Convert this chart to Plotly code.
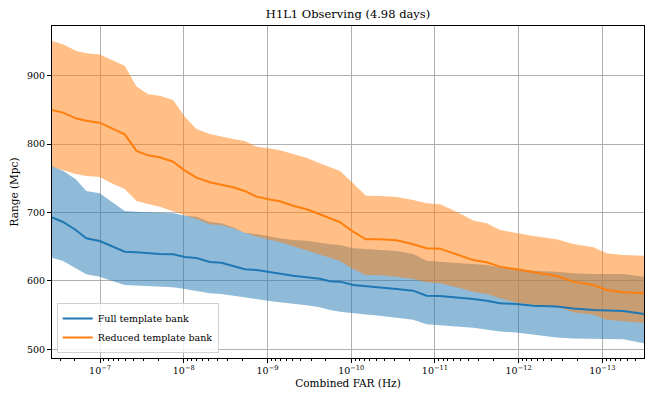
import plotly.graph_objects as go

# Combined FAR (Hz) sample positions
far = [3.75e-7, 2.77e-7, 1.95e-7, 1.46e-7, 1.01e-7, 7.31e-8, 5.07e-8, 3.67e-8, 2.67e-8, 1.94e-8,
       1.34e-8, 9.72e-9, 7.05e-9, 4.89e-9, 3.54e-9, 2.58e-9, 1.87e-9, 1.35e-9, 9.38e-10, 7.11e-10,
       4.94e-10, 3.41e-10, 2.37e-10, 1.80e-10, 1.36e-10, 9.48e-11, 6.68e-11, 4.54e-11, 2.87e-11, 1.82e-11,
       1.26e-11, 8.71e-12, 5.51e-12, 3.48e-12, 2.41e-12, 1.67e-12, 1.06e-12, 6.68e-13, 3.51e-13, 2.22e-13,
       1.28e-13, 8.87e-14, 5.62e-14, 3.18e-14]

# Full template bank (blue)
full_mid = [693, 686.2, 674.5, 662.4, 658.4, 651.1, 642.8, 641.9, 640.5, 639.4,
            639, 635, 633.6, 627.8, 626.7, 622.3, 617, 616, 612.7, 610.7,
            607.7, 605.4, 603.3, 599.5, 599, 594.1, 592.7, 590.8, 588.3, 585.8,
            578.5, 578.1, 576.2, 573.7, 571.2, 567.4, 566.4, 563.9, 562.6, 559.6,
            557.7, 556.7, 556.2, 551.7]
full_hi = [768, 761.2, 748.6, 731.5, 728.1, 715.9, 702.3, 701.3, 700.4, 699.8,
           698.9, 695.5, 694, 686, 684.3, 678.5, 670.6, 668.7, 664.8, 662.4,
           660, 658.9, 656, 653.6, 652.6, 647.8, 646.7, 645.3, 643.8, 639.4,
           629.7, 628.2, 626.7, 624.8, 623.4, 620, 617, 615, 613.6, 611.2,
           610.2, 610.2, 610.2, 606.3]
full_lo = [634, 629.2, 618.5, 609.8, 606.3, 600.4, 594.1, 593.1, 592.4, 591.7,
           590.8, 588.3, 585.8, 582, 581, 578.5, 575.6, 573.3, 570.8, 568.9,
           566.4, 564.5, 561.6, 557.6, 555.1, 552.8, 551, 549.3, 546.5, 543.2,
           536.7, 535.5, 533.5, 531.7, 528.5, 526, 524.5, 521.1, 517.2, 516,
           514.9, 514.9, 514.9, 509]

# Reduced template bank (orange)
red_mid = [849.9, 846, 837.7, 834.2, 831.3, 823, 814.3, 790, 783.6, 780.7,
           774.3, 761.2, 751, 744.2, 740.3, 736.9, 731.5, 723.2, 719, 716.4,
           710, 704.8, 697.5, 691.6, 685.8, 672, 660.9, 660.9, 659.5, 653.6,
           647.8, 647.2, 639, 630.5, 627.3, 620.9, 617, 612.7, 607.3, 599,
           594.1, 586.8, 583.5, 582]
red_hi = [950.7, 946, 936.5, 932.7, 931, 923, 914.6, 884, 872.8, 870.8,
          864.5, 840, 822, 814.8, 810.9, 807.5, 804.6, 796, 793.5, 791,
          785.5, 780, 772, 766, 760.7, 742.8, 724.6, 724.2, 722.7, 718.4,
          713.5, 712, 701.3, 688.2, 684.3, 674.5, 669.7, 665.7, 660.9, 654,
          649.2, 640.5, 638, 637]
red_lo = [767, 762, 756.3, 753.4, 752, 742.8, 734.4, 716.9, 712.5, 708.6,
          701.3, 696, 690.6, 683, 681.4, 677, 670.6, 664.8, 660, 657,
          651.1, 645.3, 639, 634, 629.2, 617.5, 608.8, 608.3, 606.3, 603,
          598.1, 596.7, 590.9, 584.4, 581, 574.7, 568.4, 565.1, 562.6, 554.4,
          550.5, 543.2, 540.8, 538.4]

labels = ["Full template bank", "Reduced template bank"]
title = "H1L1 Observing (4.98 days)"
x_major = [1e-7, 1e-8, 1e-9, 1e-10, 1e-11, 1e-12, 1e-13]
x_major_text = ["10<sup>\u22127</sup>", "10<sup>\u22128</sup>", "10<sup>\u22129</sup>",
                "10<sup>\u221210</sup>", "10<sup>\u221211</sup>", "10<sup>\u221212</sup>",
                "10<sup>\u221213</sup>"]
y_ticks = [500, 600, 700, 800, 900]

BLUE = "#1f77b4"
ORANGE = "#ff7f0e"
FONT = "DejaVu Serif"

fig = go.Figure()
fig.add_trace(go.Scatter(x=far + far[::-1], y=full_hi + full_lo[::-1], fill="toself",
                         fillcolor="rgba(31,119,180,0.5)", line=dict(width=0),
                         mode="lines", showlegend=False, hoverinfo="skip"))
fig.add_trace(go.Scatter(x=far + far[::-1], y=red_hi + red_lo[::-1], fill="toself",
                         fillcolor="rgba(255,127,14,0.5)", line=dict(width=0),
                         mode="lines", showlegend=False, hoverinfo="skip"))
fig.add_trace(go.Scatter(x=far, y=full_mid, mode="lines", name=labels[0],
                         line=dict(color=BLUE, width=2)))
fig.add_trace(go.Scatter(x=far, y=red_mid, mode="lines", name=labels[1],
                         line=dict(color=ORANGE, width=2)))

minor_vals = [m * 10.0 ** e for e in range(-14, -6) for m in range(2, 10)]

fig.update_layout(
    width=663, height=393,
    margin=dict(l=52, r=19, t=26, b=35, autoexpand=False),
    paper_bgcolor="white", plot_bgcolor="white",
    font=dict(family=FONT, size=10, color="black"),
    title=dict(text=title, x=0.525, xanchor="center", y=0.965, yanchor="middle",
               font=dict(family=FONT, size=11.5, color="black")),
    legend=dict(x=0.008, y=0.015, xanchor="left", yanchor="bottom",
                bgcolor="rgba(255,255,255,0.85)", bordercolor="#d0d0d0", borderwidth=1,
                font=dict(family=FONT, size=9.5), tracegroupgap=0, itemwidth=30),
    showlegend=True,
)
fig.update_xaxes(
    type="log", range=[-6.426, -13.498], automargin=False,
    tickvals=x_major, ticktext=x_major_text,
    ticks="outside", ticklen=4, tickcolor="black", tickwidth=1,
    showgrid=True, gridcolor="#b0b0b0", gridwidth=1,
    showline=True, linecolor="black", linewidth=1, mirror=True,
    zeroline=False,
    minor=dict(tickvals=minor_vals, ticks="outside", ticklen=2, tickcolor="black", showgrid=False),
    title=dict(text="Combined FAR (Hz)", standoff=4, font=dict(family=FONT, size=10.5)),
    tickfont=dict(family=FONT, size=9.5),
)
fig.update_yaxes(
    range=[487.4, 972.6], automargin=False,
    tickvals=y_ticks,
    ticks="outside", ticklen=4, tickcolor="black", tickwidth=1,
    showgrid=True, gridcolor="#b0b0b0", gridwidth=1,
    showline=True, linecolor="black", linewidth=1, mirror=True,
    zeroline=False,
    title=dict(text="Range (Mpc)", standoff=6, font=dict(family=FONT, size=10.5)),
    tickfont=dict(family=FONT, size=9.5),
)

fig.write_html("out.html", config={"displayModeBar": False},
               post_script="document.body.style.margin='0';document.body.style.padding='0';")
